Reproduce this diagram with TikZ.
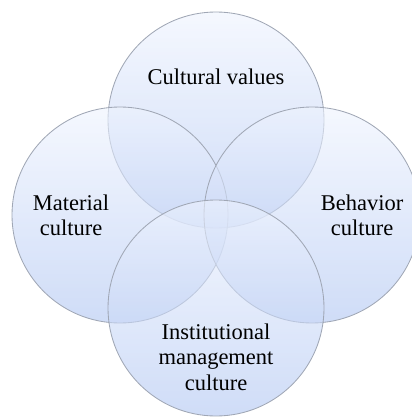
\documentclass[tikz,border=0pt]{standalone}
\usepackage{fontspec}
\setmainfont{Liberation Serif}
\definecolor{circtop}{HTML}{EEF3FE}
\definecolor{circbottom}{HTML}{AFC5F2}
\definecolor{circline}{HTML}{A0A7B5}
\tikzset{
    culture/.style={circle, minimum size=5.4cm, inner sep=0pt, draw=circline, line width=0.6pt,
        top color=circtop, bottom color=circbottom, fill opacity=0.6},
    circtext/.style={align=center, text=black, font=\fontsize{16}{18}\selectfont}
}
\begin{document}
\begin{tikzpicture}
                \useasboundingbox (0,0) rectangle (10.275,-10.425);

                \node[culture] (values) at (5.4,-3.0) {};
                \node[culture] (material) at (3.0,-5.375) {};
                \node[culture] (behavior) at (7.8,-5.375) {};
                \node[culture] (institution) at (5.4,-7.7) {};

                \node[circtext] (valuestext) at (5.4,-1.925) {Cultural values};
                \node[circtext] (materialtext) at (1.775,-5.375) {Material\\culture};
                \node[circtext] (behaviortext) at (9.05,-5.375) {Behavior\\culture};
                \node[circtext] (institutiontext) at (5.4,-8.925) {Institutional\\management\\culture};
            \end{tikzpicture}
\end{document}
